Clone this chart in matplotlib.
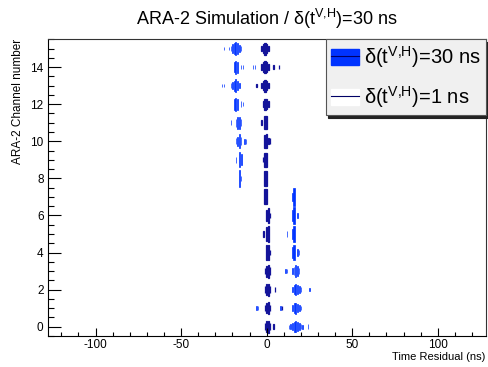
import matplotlib
matplotlib.use('Agg')
import matplotlib.pyplot as plt
from matplotlib.patches import Patch
from matplotlib.lines import Line2D
from matplotlib.ticker import MultipleLocator

plt.rcParams['font.family'] = ['Liberation Sans', 'DejaVu Sans']
plt.rcParams['mathtext.fontset'] = 'custom'
plt.rcParams['mathtext.rm'] = 'Liberation Sans'
plt.rcParams['mathtext.it'] = 'Liberation Sans:italic'
plt.rcParams['axes.unicode_minus'] = False

# box size (fraction of full cell) per channel, keyed by time bin in ns
spread_30ns = {
    15: {-25: 0.2, -22: 0.2, -21: 0.3, -20: 0.45, -19: 0.6, -18: 0.7, -17: 0.6, -16: 0.35, -15: 0.25},
    14: {-19: 0.55, -18: 0.7, -17: 0.6, -15: 0.25, -14: 0.2, -8: 0.2, -7: 0.2},
    13: {-26: 0.2, -25: 0.2, -21: 0.25, -20: 0.4, -19: 0.55, -18: 0.7, -17: 0.5, -16: 0.3},
    12: {-19: 0.6, -18: 0.7, -17: 0.6, -15: 0.3, -14: 0.25},
    11: {-21: 0.25, -18: 0.45, -17: 0.65, -16: 0.65, -15: 0.4},
    10: {-18: 0.3, -17: 0.5, -16: 0.75, -15: 0.45, -13: 0.25, -12: 0.25},
    9: {-18: 0.3, -16: 0.8, -15: 0.6},
    8: {-16: 0.95, -15: 0.3},
    7: {15: 0.4, 16: 0.95},
    6: {15: 0.55, 16: 0.9, 18: 0.3},
    5: {12: 0.3, 15: 0.5, 16: 0.9},
    4: {15: 0.6, 16: 0.85, 18: 0.35, 19: 0.25},
    3: {11: 0.2, 12: 0.2, 15: 0.3, 16: 0.45, 17: 0.65, 18: 0.55, 19: 0.3},
    2: {15: 0.3, 16: 0.5, 17: 0.6, 18: 0.5, 19: 0.35, 20: 0.25, 25: 0.2},
    1: {-6: 0.2, -5: 0.2, 8: 0.2, 15: 0.3, 16: 0.55, 17: 0.6, 18: 0.45, 19: 0.35, 20: 0.25},
    0: {13: 0.2, 14: 0.3, 15: 0.4, 16: 0.55, 17: 0.6, 18: 0.5, 19: 0.4, 20: 0.3, 21: 0.2, 24: 0.25},
}

sharp_1ns = {
    15: {-3: 0.3, -2: 0.5, -1: 0.65, 0: 0.5, 1: 0.3},
    14: {-3: 0.3, -2: 0.5, -1: 0.65, 0: 0.55, 1: 0.3, 4: 0.2, 7: 0.2},
    13: {-6: 0.2, -3: 0.3, -2: 0.5, -1: 0.65, 0: 0.5, 1: 0.3},
    12: {-2: 0.35, -1: 0.6, 0: 0.55, 1: 0.3},
    11: {-3: 0.25, -1: 0.7, 0: 0.7},
    10: {-1: 0.7, 0: 0.75, 1: 0.3, 2: 0.3},
    9: {-2: 0.25, -1: 0.75, 0: 0.75},
    8: {-1: 0.8, 0: 0.8},
    7: {-1: 0.8, 0: 0.8},
    6: {0: 0.6, 1: 0.85, 2: 0.3},
    5: {-2: 0.3, 0: 0.8, 1: 0.85},
    4: {0: 0.85, 1: 0.8, 2: 0.3},
    3: {-1: 0.35, 0: 0.6, 1: 0.7, 2: 0.4},
    2: {-1: 0.35, 0: 0.6, 1: 0.65, 2: 0.35, 5: 0.25},
    1: {-1: 0.35, 0: 0.55, 1: 0.65, 2: 0.35, 9: 0.2},
    0: {-1: 0.35, 0: 0.6, 1: 0.65, 2: 0.35, 4: 0.3},
}

blue = '#0033ff'
navy = '#14149a'

fig = plt.figure(figsize=(4.89, 3.67), dpi=100)
ax = fig.add_axes([0.0975, 0.0845, 0.8958, 0.8085])


def draw_boxes(hist, fc, ec, lw):
    for ch, bins in hist.items():
        t = list(bins.keys())
        s = list(bins.values())
        ax.bar(t, s, width=s, bottom=[ch - v / 2 for v in s],
               color=fc, edgecolor=ec, linewidth=lw)


draw_boxes(spread_30ns, blue, blue, 0.5)
draw_boxes(sharp_1ns, navy, navy, 0.9)

ax.set_xlim(-128, 128)
ax.set_ylim(-0.5, 15.5)
ax.xaxis.set_major_locator(MultipleLocator(50))
ax.xaxis.set_minor_locator(MultipleLocator(10))
ax.yaxis.set_major_locator(MultipleLocator(2))
ax.yaxis.set_minor_locator(MultipleLocator(0.5))
ax.tick_params(axis='x', which='major', direction='in', length=6, width=0.8, pad=2.5, labelsize=8.5)
ax.tick_params(axis='x', which='minor', direction='in', length=3, width=0.8)
ax.tick_params(axis='y', which='major', direction='in', length=9, width=0.8, pad=3, labelsize=8.5)
ax.tick_params(axis='y', which='minor', direction='in', length=4.5, width=0.8)
for side in ['top', 'right']:
    ax.spines[side].set_color('#333333')
    ax.spines[side].set_linewidth(0.8)

sup = r'$^{\rm V{,}H}$'
fig.text(0.545, 1 - 18.5 / 367, 'ARA-2 Simulation / δ(t' + sup + ')=30 ns',
         ha='center', va='center', fontsize=13)
fig.text(485.7 / 489, 1 - 356.5 / 367, 'Time Residual (ns)', ha='right', va='center', fontsize=8)
fig.text(18 / 489, 1 - 39 / 367, 'ARA-2 Channel number', rotation=90,
         ha='center', va='top', fontsize=8.5)

handles = [(Patch(fc=blue, ec=blue), Line2D([], [], color='#000066', lw=0.8)),
           (Patch(fc='white', ec='white'), Line2D([], [], color='#000066', lw=0.8))]
labels = ['δ(t' + sup + ')=30 ns', 'δ(t' + sup + ')=1 ns']
leg = fig.legend(handles, labels, loc='upper right',
                 bbox_to_anchor=(485.7 / 489, 1 - 39.3 / 367), borderaxespad=0,
                 fontsize=14.5, handlelength=1.4, handleheight=0.9, handletextpad=0.25,
                 labelspacing=0.7, borderpad=0.25, fancybox=False, framealpha=1,
                 facecolor='#f0f0f0', edgecolor='#555555',
                 shadow={'color': '#222222', 'alpha': 1})
leg.get_frame().set_linewidth(0.8)

fig.savefig('out.png', dpi=100)
